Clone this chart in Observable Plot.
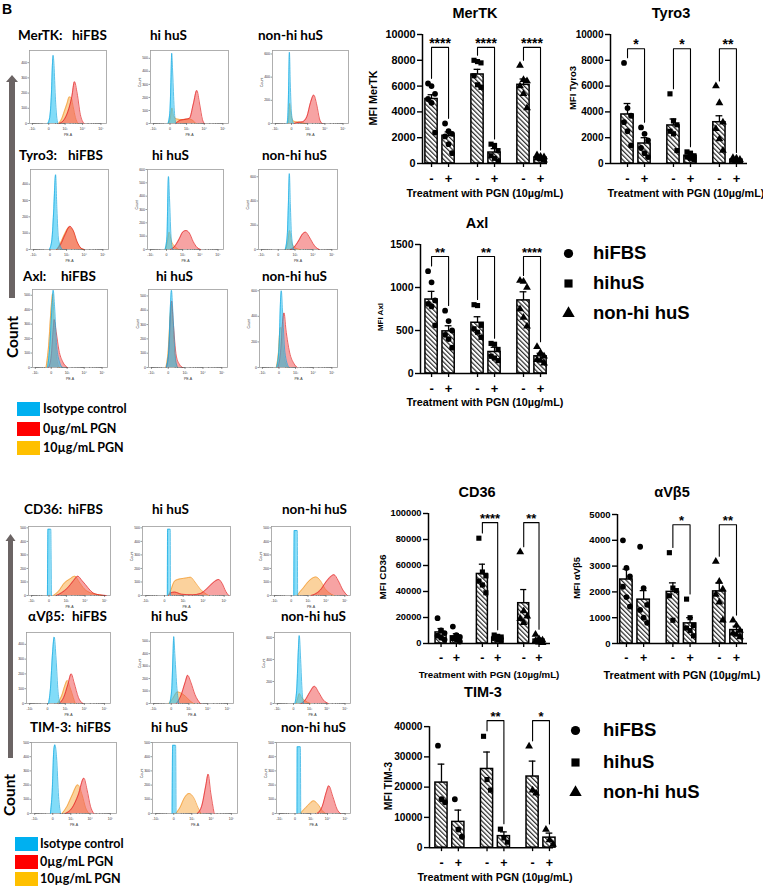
<!DOCTYPE html>
<html><head><meta charset="utf-8">
<script src="https://cdn.jsdelivr.net/npm/d3@7"></script>
<script src="https://cdn.jsdelivr.net/npm/@observablehq/plot@0.6"></script>
<style>
body{margin:0;background:#fff;}
#fig{position:relative;width:763px;height:889px;overflow:hidden;font-family:"Liberation Sans",Arial,sans-serif;font-weight:bold;color:#000;background:#fff;}
.t{position:absolute;white-space:pre;line-height:1;}
.c{transform:translate(-50%,-50%);}
.r{transform:translate(-50%,-50%) rotate(-90deg);}
.l{transform:translateY(-50%);}
.lato{font-family:Lato,"Liberation Sans",sans-serif;}
</style></head><body>
<div id="fig">
<svg width="0" height="0" style="position:absolute">
 <defs>
  <pattern id="hatch" width="3.3" height="3.3" patternUnits="userSpaceOnUse" patternTransform="rotate(-45)">
   <rect width="3.3" height="3.3" fill="#fff"/>
   <line x1="0.6" y1="0" x2="0.6" y2="3.3" stroke="#2a2a2a" stroke-width="1.2"/>
  </pattern>
 </defs>
</svg>
<svg width="30" height="889" style="position:absolute;left:0;top:0">
 <polygon points="12,75 18,82 15,82 15,298 9,298 9,82 6,82" fill="#6b6464"/>
 <polygon points="10.5,534 15.5,541 13,541 13,758 8,758 8,541 5.5,541" fill="#6b6464"/>
</svg>
</div>
<script>
// ---------------- DATA ----------------
const GROUPS = ["hiFBS", "hihuS", "non-hi huS"];
const TREAT = ["-", "+"];
const SYMBOLS = ["circle", "square", "triangle"];
const SERA_TITLES = ["hiFBS", "hi huS", "non-hi huS"];
const HIST_X_TICKS = [-1000, 0, 1000, 10000, 100000];
const HIST_X_LABELS = ["-10³", "0", "10³", "10⁴", "10⁵"];
const LEGEND_LABELS = ["Isotype control", "0µg/mL PGN", "10µg/mL PGN"];
const X_TITLE = "Treatment with PGN (10µg/mL)";

// Flow histograms: [fluorescence (PE-A), count]
const H_MerTK_hiFBS = {ymax: 480, step: 100,
  iso: [[-20,0],[20,40],[60,200],[90,400],[109,448],[140,380],[190,180],[250,50],[315,0]],
  pgn0: [[400,0],[870,25],[1500,80],[2500,175],[3550,275],[5000,200],[7500,60],[12000,0]],
  pgn10: [[350,0],[600,30],[900,80],[1300,130],[1800,175],[2300,170],[3000,110],[4000,40],[5500,0]]};
const H_MerTK_hihuS = {ymax: 560, step: 100,
  iso: [[-40,0],[0,100],[20,350],[35,539],[60,380],[100,120],[150,0]],
  pgn0: [[150,0],[300,20],[800,32],[1500,40],[2500,150],[3900,254],[5600,150],[8000,30],[10000,0]],
  pgn10: [[-30,0],[10,50],[40,119],[80,60],[200,34],[600,30],[1500,34],[2500,20],[3500,0]]};
const H_MerTK_nonhi = {ymax: 630, step: 200,
  iso: [[-110,0],[-80,120],[-60,400],[-45,615],[-25,350],[0,90],[40,0]],
  pgn0: [[60,0],[200,10],[450,15],[900,60],[1500,180],[2350,245],[3500,160],[5000,40],[7000,0]],
  pgn10: [[-80,0],[-55,80],[-40,173],[-20,110],[20,30],[100,15],[300,10],[700,0]]};
const H_Tyro3_hiFBS = {ymax: 490, step: 100,
  iso: [[-10,0],[40,60],[90,250],[149,458],[200,250],[280,60],[520,0]],
  pgn0: [[200,0],[400,30],[800,90],[1600,142],[2500,115],[4000,50],[6500,10],[10000,0]],
  pgn10: [[200,0],[400,40],[800,100],[1400,135],[2300,120],[4000,45],[6500,8],[9500,0]]};
const H_Tyro3_hihuS = {ymax: 600, step: 100,
  iso: [[-30,0],[10,100],[25,350],[43,547],[70,380],[110,120],[170,0]],
  pgn0: [[100,0],[250,20],[600,80],[1000,130],[1600,142],[2500,125],[4200,60],[7000,15],[11000,0]],
  pgn10: [[-20,0],[20,60],[60,130],[120,70],[300,20],[550,0]]};
const H_Tyro3_nonhi = {ymax: 660, step: 200,
  iso: [[200,0],[300,120],[370,400],[430,626],[500,380],[600,120],[840,0]],
  pgn0: [[500,0],[900,20],[1600,70],[2800,130],[4000,143],[6000,110],[10000,50],[15000,15],[22000,0]],
  pgn10: [[220,0],[330,60],[440,157],[600,60],[1000,15],[1900,0]]};
const H_Axl_hiFBS = {ymax: 540, step: 100,
  iso: [[-90,0],[-30,150],[20,450],[43,535],[80,420],[150,150],[280,40],[480,0]],
  pgn0: [[-60,0],[0,80],[40,250],[68,332],[130,250],[250,120],[500,40],[1050,0]],
  pgn10: [[-140,0],[-60,150],[0,420],[30,511],[60,350],[130,100],[260,0]]};
const H_Axl_hihuS = {ymax: 545, step: 100,
  iso: [[-40,0],[10,120],[50,460],[72,539],[110,400],[200,80],[310,0]],
  pgn0: [[-40,0],[10,100],[55,400],[75,465],[120,330],[250,80],[450,20],[700,0]],
  pgn10: [[-50,0],[0,120],[50,400],[72,442],[110,300],[200,60],[320,0]]};
const H_Axl_nonhi = {ymax: 610, step: 200,
  iso: [[-50,0],[0,150],[35,550],[50,600],[80,450],[160,120],[350,0]],
  pgn0: [[-20,0],[40,150],[90,380],[130,427],[200,300],[400,120],[800,30],[1250,0]],
  pgn10: [[-60,0],[-10,120],[20,300],[45,315],[80,200],[150,60],[300,0]]};
const H_CD36_hiFBS = {ymax: 510, step: 100,
  iso: [[-30,0],[-25,300],[-20,490],[35,490],[42,300],[50,0]],
  pgn0: [[200,0],[500,20],[1200,57],[2500,110],[4160,143],[7000,110],[10500,81],[18000,40],[29000,15],[70000,3],[120000,0]],
  pgn10: [[100,0],[300,30],[780,94],[1500,120],[2960,143],[5000,100],[9000,50],[15800,25],[40000,8],[77000,0]]};
const H_CD36_hihuS = {ymax: 510, step: 100,
  iso: [[55,0],[60,490],[130,490],[136,0]],
  pgn0: [[80,0],[150,20],[300,25],[800,10],[3000,5],[7500,15],[15000,50],[30000,95],[55000,118],[80000,90],[120000,30],[165000,0]],
  pgn10: [[80,0],[150,40],[300,106],[700,123],[1500,130],[2400,135],[4000,100],[7000,50],[10400,25],[18000,0]]};
const H_CD36_nonhi = {ymax: 510, step: 100,
  iso: [[55,0],[65,480],[160,480],[175,0]],
  pgn0: [[1500,0],[2500,10],[5000,40],[10000,100],[18000,140],[26500,154],[45000,110],[80000,40],[136000,0]],
  pgn10: [[160,0],[300,30],[500,56],[1000,100],[2790,137],[5000,110],[9000,50],[14900,20],[26000,0]]};
const H_avb5_hiFBS = {ymax: 480, step: 100,
  iso: [[20,0],[60,100],[120,350],[173,449],[250,300],[350,80],[480,0]],
  pgn0: [[420,0],[800,40],[1400,130],[2100,200],[3000,140],[5000,40],[8300,0]],
  pgn10: [[320,0],[600,50],[1000,130],[1280,156],[1800,110],[2700,40],[3400,0]]};
const H_avb5_hihuS = {ymax: 570, step: 100,
  iso: [[-30,0],[10,120],[35,400],[50,537],[80,380],[140,120],[210,0]],
  pgn0: [[120,0],[300,60],[600,170],[850,226],[1300,170],[2200,70],[4160,0]],
  pgn10: [[-50,0],[30,40],[100,80],[150,93],[300,85],[600,60],[1200,20],[1800,0]]};
const H_avb5_nonhi = {ymax: 645, step: 200,
  iso: [[30,0],[80,150],[130,500],[161,617],[220,400],[300,100],[390,0]],
  pgn0: [[250,0],[500,30],[1000,100],[1970,156],[3500,100],[6500,30],[12000,0]],
  pgn10: [[60,0],[110,50],[165,90],[250,60],[500,25],[1100,0]]};
const H_TIM3_hiFBS = {ymax: 500, step: 100,
  iso: [[-45,0],[-10,150],[20,450],[41,484],[80,400],[140,120],[210,0]],
  pgn0: [[480,0],[1200,40],[2500,130],[4880,249],[7000,170],[10500,50],[15300,0]],
  pgn10: [[280,0],[600,50],[1200,130],[2400,202],[4000,130],[6000,40],[8800,0]]};
const H_TIM3_hihuS = {ymax: 500, step: 100,
  iso: [[-30,0],[-20,480],[35,480],[45,0]],
  pgn0: [[2000,0],[3500,60],[5500,200],[7150,277],[9500,150],[14200,0]],
  pgn10: [[40,0],[150,40],[350,110],[700,141],[1300,110],[2200,40],[3100,0]]};
const H_TIM3_nonhi = {ymax: 500, step: 100,
  iso: [[45,0],[50,470],[150,470],[165,0]],
  pgn0: [[2500,0],[5000,50],[8500,150],[11800,195],[20000,120],[35000,30],[55000,0]],
  pgn10: [[150,0],[300,25],[700,60],[1500,89],[3000,60],[5000,20],[7500,0]]};

// Bar charts: order hiFBS-, hiFBS+, hihuS-, hihuS+, non-hi-, non-hi+
const MerTK_mean = [5000, 2150, 6900, 850, 6100, 450];
const MerTK_sem = [330, 300, 400, 300, 450, 80];
const MerTK_pts = [[6200,6000,5400,5000,4700,2400],[3100,2500,2300,2100,1500,800],[8000,7900,7800,6800,6100,5900],[1500,1400,1000,600,400,200],[7600,6500,6400,6000,5400,4300],[650,550,500,400,350,250]];
const MerTK_sig = ["****", "****", "****"];

const Tyro3_mean = [3800, 1550, 2950, 600, 3200, 300];
const Tyro3_sem = [850, 450, 500, 150, 500, 60];
const Tyro3_pts = [[7800,4300,3700,3200,2500,1400],[2800,2300,1800,1200,800,500],[5400,3300,3000,2500,2300,1000],[900,800,600,500,400,300],[6000,4700,3200,2700,1900,1000],[450,400,300,250,200,150]];
const Tyro3_sig = ["*", "*", "**"];

const Axl_mean = [860, 490, 590, 250, 850, 200];
const Axl_sem = [95, 65, 70, 55, 100, 35];
const Axl_pts = [[1190,1060,850,810,780,560],[730,610,500,450,400,300],[800,790,560,520,480,420],[350,340,280,200,180,150],[1080,1070,1000,750,650,550],[310,240,200,160,150,120]];
const Axl_sig = ["**", "**", "****"];

const CD36_mean = [8500, 5500, 53500, 4500, 31000, 3000];
const CD36_sem = [3000, 2000, 7500, 1000, 10500, 1200];
const CD36_pts = [[19500,10000,8000,6000,4500,3000],[13000,6500,5000,4000,3000,1500],[81000,55000,52000,48000,45000,39000],[6500,5500,5000,4000,3000,2500],[70400,25000,21000,19000,16000],[7000,3500,2500,2000,1000,500]];
const CD36_sig = [null, "****", "**"];

const avb5_mean = [2480, 1700, 2000, 780, 2020, 520];
const avb5_sem = [400, 350, 350, 220, 330, 150];
const avb5_pts = [[4000,2930,2600,2200,1800,1430],[3750,2150,1500,1300,1000,800],[3520,2150,2050,1850,900],[1720,1000,700,600,500,300],[3180,2400,2100,1900,1600,900],[900,700,500,400,350,250]];
const avb5_sig = [null, "*", "**"];

const TIM3_mean = [21500, 8500, 26000, 3800, 23500, 3300];
const TIM3_sem = [6100, 3900, 5600, 1400, 5100, 1500];
const TIM3_pts = [[33700,16000,15000],[16000,6000,3600],[36800,22500,19000],[6100,3200,1800],[33500,19000,18000],[6000,2500,1000]];
const TIM3_sig = [null, "**", "*"];

// ---------------- STYLE / LAYOUT ----------------
const CYAN = ["#2ec4f3", "#16a8e0"], RED = ["#f04848", "#e32020"], ORANGE = ["#f7a53c", "#f29a2e"];
const SWATCH = ["#00b0f0", "#ff0000", "#ffc000"];
const PAIR = 2.7, HALF = 0.36;
const fig = document.getElementById("fig");

function txt(s, x, y, size, mode, cls = "") {
  const d = document.createElement("div");
  d.className = "t " + mode + " " + cls;
  d.textContent = s;
  d.style.left = x + "px"; d.style.top = y + "px"; d.style.fontSize = size + "px";
  fig.appendChild(d);
  return d;
}
function place(el, left, top) {
  el.style.position = "absolute"; el.style.left = left + "px"; el.style.top = top + "px";
  el.style.background = "transparent"; el.style.overflow = "visible"; el.style.maxWidth = "none";
  fig.appendChild(el);
}

const MINOR_H = [2,3,4,5,6,7,8,9].flatMap(k => [k * 100, k * 1000, k * 10000, -k * 100]);
function curve(data, col, op) {
  return [
    Plot.areaY(data, {x: d => d[0], y: d => d[1], fill: col[0], fillOpacity: op, curve: "monotone-x"}),
    Plot.lineY(data, {x: d => d[0], y: d => d[1], stroke: col[1], strokeWidth: 0.7, curve: "monotone-x"})
  ];
}
function histo(h, fr, showCount) {
  const [l, r, t, b] = fr;
  const mL = 16, mR = 3, mT = 3, mB = 17;
  const marks = [
    Plot.frame({stroke: "#9c9c9c", strokeWidth: 0.8}),
    ...curve(h.pgn10, ORANGE, 0.5),
    ...curve(h.pgn0, RED, 0.5),
    ...curve(h.iso, CYAN, 0.6),
    Plot.axisY({ticks: d3.range(0, h.ymax + 1, h.step), tickFormat: d => String(d), tickSize: 1.5, tickPadding: 1, fontSize: 3.5, strokeWidth: 0.5, label: null}),
    Plot.axisX({ticks: HIST_X_TICKS, tickFormat: d => HIST_X_LABELS[HIST_X_TICKS.indexOf(d)], tickSize: 2, tickPadding: 1.5, fontSize: 3.5, strokeWidth: 0.5, label: null}),
    Plot.axisX({ticks: MINOR_H, tickFormat: () => "", tickSize: 1, strokeWidth: 0.4, label: null}),
    Plot.text(["PE-A"], {frameAnchor: "bottom", dy: 12, fontSize: 3.5})
  ];
  if (showCount) marks.push(Plot.text(["Count"], {frameAnchor: "left", dx: -11, rotate: -90, fontSize: 3.5}));
  const p = Plot.plot({
    width: mL + (r - l) + mR, height: mT + (b - t) + mB,
    marginLeft: mL, marginRight: mR, marginTop: mT, marginBottom: mB,
    style: {fontFamily: "Liberation Sans, Arial, sans-serif", fontSize: "3.5px", fontWeight: "normal", color: "#333", background: "transparent"},
    x: {type: "symlog", constant: 150, domain: [-1500, 200000]},
    y: {domain: [0, h.ymax]},
    marks
  });
  place(p, l - mL, t - mT);
}

function barChart(c) {
  const xOf = (g, t) => g * PAIR + t;
  const bars = c.mean.map((m, i) => ({g: i >> 1, t: i & 1, mean: m, sem: c.sem[i]}));
  const pts = c.pts.flatMap((arr, i) => arr.map((v, j) => ({g: i >> 1, t: i & 1, v, lane: j % 3})));
  const pad = 0.04 * c.domainMax;
  const legEnd = (g, t) => Math.max(d3.max(c.pts[g * 2 + t]), c.mean[g * 2 + t] + c.sem[g * 2 + t]) + pad;
  const brackets = [];
  c.sig.forEach((s, g) => {
    if (!s) return;
    brackets.push({g, x: xOf(g, 0), y: legEnd(g, 0)}, {g, x: xOf(g, 0), y: c.bracketY},
                  {g, x: xOf(g, 1), y: c.bracketY}, {g, x: xOf(g, 1), y: legEnd(g, 1)});
  });
  const stars = c.sig.map((s, g) => ({g, s})).filter(d => d.s);
  const ticksX = bars.map(d => xOf(d.g, d.t));
  const tickLab = new Map(ticksX.map((x, i) => [x, TREAT[i % 2]]));
  const xmin = -c.padL, xmax = 2 * PAIR + 1 + c.padR;
  const mL = 60, mR = 20, mT = 16, mB = 30;
  const frameTop = c.y0 - (c.y0 - c.yTickTop) * c.domainMax / c.tickMax;
  const marks = [
    Plot.rect(bars, {x1: d => xOf(d.g, d.t) - HALF, x2: d => xOf(d.g, d.t) + HALF, y1: 0, y2: "mean", fill: "white", stroke: "black", strokeWidth: 1.5}),
    Plot.ruleX(bars, {x: d => xOf(d.g, d.t), y1: "mean", y2: d => d.mean + d.sem, strokeWidth: 1.3}),
    Plot.ruleY(bars, {y: d => d.mean + d.sem, x1: d => xOf(d.g, d.t) - 0.2, x2: d => xOf(d.g, d.t) + 0.2, strokeWidth: 1.3}),
    ...[-3.5, 0, 3.5].map((dx, lane) => Plot.dot(pts.filter(d => d.lane === lane), {x: d => xOf(d.g, d.t), y: "v", symbol: d => GROUPS[d.g], fill: "black", stroke: "none", r: 2.9, dx})),
    Plot.line(brackets, {x: "x", y: "y", z: "g", stroke: "black", strokeWidth: 1.1}),
    Plot.text(stars, {x: d => xOf(d.g, 0.5), y: c.bracketY, text: "s", dy: -4, lineAnchor: "middle", fontSize: c.starFont, fontWeight: "bold"}),
    Plot.ruleX([xmin], {y1: 0, y2: c.tickMax, strokeWidth: 1.5}),
    Plot.ruleY([0], {strokeWidth: 1.5}),
    Plot.axisY({ticks: d3.range(0, c.tickMax + 1, c.tickStep), tickFormat: d => String(d), tickSize: 5, tickPadding: 2, strokeWidth: 1.4, fontSize: c.yFont, label: null}),
    Plot.axisX({ticks: ticksX, tickFormat: d => tickLab.get(d), tickSize: 4, tickPadding: 6, strokeWidth: 1.3, fontSize: c.xFont, label: null})
  ];
  const p = Plot.plot({
    width: mL + (c.frameRight - c.frameLeft) + mR,
    height: mT + (c.y0 - frameTop) + mB,
    marginLeft: mL, marginRight: mR, marginTop: mT, marginBottom: mB,
    style: {fontFamily: "Liberation Sans, Arial, sans-serif", fontWeight: "bold", color: "#000", background: "transparent"},
    x: {domain: [xmin, xmax]},
    y: {domain: [0, c.domainMax]},
    symbol: {domain: GROUPS, range: SYMBOLS},
    marks
  });
  p.querySelectorAll('g[aria-label="rect"] rect').forEach(r => r.setAttribute("fill", "url(#hatch)"));
  place(p, c.frameLeft - mL, frameTop - mT);
  txt(c.title, c.titlePos[0], c.titlePos[1], 14.5, "c");
  txt(X_TITLE, c.xTitlePos[0], c.xTitlePos[1], c.xTitleFont, "c");
  txt(c.yLabel, c.yLabelPos[0], c.yLabelPos[1], c.yLabelFont, "r");
}

// ---------------- HISTOGRAM PANELS ----------------
const topRows = [
  {name: "MerTK:", hx: 18, fx: 72, y: 36, sx: [150, 258], tb: [50, 123], cols: [[29,106],[150,228],[272,348]], h: [H_MerTK_hiFBS, H_MerTK_hihuS, H_MerTK_nonhi]},
  {name: "Tyro3:", hx: 19, fx: 68, y: 156, sx: [152, 262], tb: [169, 249], cols: [[30,108],[147,223],[258,337]], h: [H_Tyro3_hiFBS, H_Tyro3_hihuS, H_Tyro3_nonhi]},
  {name: "Axl:", hx: 23, fx: 61, y: 277, sx: [156, 262], tb: [289, 367], cols: [[32,107],[148,227],[259,337]], h: [H_Axl_hiFBS, H_Axl_hihuS, H_Axl_nonhi]},
  {name: "CD36:", hx: 24, fx: 68, y: 510, sx: [152, 282], tb: [526, 595], cols: [[28,110],[142,230],[271,350]], h: [H_CD36_hiFBS, H_CD36_hihuS, H_CD36_nonhi]},
  {name: "αVβ5:", hx: 28, fx: 72, y: 617, sx: [151, 281], tb: [632, 703], cols: [[26,110],[150,233],[274,350]], h: [H_avb5_hiFBS, H_avb5_hihuS, H_avb5_nonhi]},
  {name: "TIM-3:", hx: 30, fx: 76, y: 728, sx: [151, 281], tb: [742, 813], cols: [[31,116],[152,237],[276,350]], h: [H_TIM3_hiFBS, H_TIM3_hihuS, H_TIM3_nonhi]}
];
topRows.forEach(row => {
  txt(row.name, row.hx, row.y, 13.5, "l", "lato");
  txt(SERA_TITLES[0], row.fx, row.y, 13.5, "l", "lato");
  txt(SERA_TITLES[1], row.sx[0], row.y, 13.5, "l", "lato");
  txt(SERA_TITLES[2], row.sx[1], row.y, 13.5, "l", "lato");
  row.cols.forEach((cx, i) => histo(row.h[i], [cx[0], cx[1], row.tb[0], row.tb[1]], i > 0));
});

txt("B", 7, 9, 14, "c");
txt("Count", 13, 337, 15.5, "r", "lato");
txt("Count", 10, 795, 15.5, "r", "lato");

function swatchLegend(x, tops, h, tx, fs) {
  LEGEND_LABELS.forEach((lab, i) => {
    const s = document.createElement("div");
    Object.assign(s.style, {position: "absolute", left: x + "px", top: tops[i] + "px", width: "23px", height: h + "px", background: SWATCH[i]});
    fig.appendChild(s);
    txt(lab, tx, tops[i] + h / 2, fs, "l", "lato");
  });
}
swatchLegend(17, [402, 422, 441], 14, 43, 12.5);
swatchLegend(15, [837, 855, 872], 14, 40, 12.5);

// ---------------- BAR CHARTS ----------------
barChart({mean: MerTK_mean, sem: MerTK_sem, pts: MerTK_pts, sig: MerTK_sig, bracketY: 9000,
  domainMax: 10000, tickMax: 10000, tickStep: 2000, frameLeft: 422, frameRight: 547, yTickTop: 34, y0: 163, padL: 0.53, padR: 0.41,
  yFont: 10.8, xFont: 13, starFont: 14, title: "MerTK", titlePos: [475, 13], xTitlePos: [485, 193], xTitleFont: 10.8,
  yLabel: "MFI MerTK", yLabelPos: [373, 98], yLabelFont: 10.8});
barChart({mean: Tyro3_mean, sem: Tyro3_sem, pts: Tyro3_pts, sig: Tyro3_sig, bracketY: 8900,
  domainMax: 10000, tickMax: 10000, tickStep: 2000, frameLeft: 610, frameRight: 747, yTickTop: 34, y0: 163, padL: 1.0, padR: 0.65,
  yFont: 10, xFont: 13, starFont: 14, title: "Tyro3", titlePos: [671, 13], xTitlePos: [686, 193], xTitleFont: 10.8,
  yLabel: "MFI Tyro3", yLabelPos: [573, 88], yLabelFont: 9.5});
barChart({mean: Axl_mean, sem: Axl_sem, pts: Axl_pts, sig: Axl_sig, bracketY: 1360,
  domainMax: 1500, tickMax: 1500, tickStep: 500, frameLeft: 420, frameRight: 547, yTickTop: 244, y0: 373, padL: 0.65, padR: 0.41,
  yFont: 10.5, xFont: 13, starFont: 13, title: "Axl", titlePos: [477, 223], xTitlePos: [485, 402], xTitleFont: 10.8,
  yLabel: "MFI Axl", yLabelPos: [381, 317], yLabelFont: 8});
barChart({mean: CD36_mean, sem: CD36_sem, pts: CD36_pts, sig: CD36_sig, bracketY: 93000,
  domainMax: 100000, tickMax: 100000, tickStep: 20000, frameLeft: 428, frameRight: 550, yTickTop: 513, y0: 643, padL: 0.82, padR: 0.75,
  yFont: 9.3, xFont: 12.5, starFont: 13, title: "CD36", titlePos: [477, 492], xTitlePos: [489, 675], xTitleFont: 9.7,
  yLabel: "MFI CD36", yLabelPos: [383, 577], yLabelFont: 9.9});
barChart({mean: avb5_mean, sem: avb5_sem, pts: avb5_pts, sig: avb5_sig, bracketY: 4600,
  domainMax: 5000, tickMax: 5000, tickStep: 1000, frameLeft: 617, frameRight: 747, yTickTop: 514, y0: 643, padL: 0.52, padR: 0.64,
  yFont: 9.5, xFont: 12.5, starFont: 13, title: "αVβ5", titlePos: [672, 492], xTitlePos: [682, 675], xTitleFont: 10.8,
  yLabel: "MFI αVβ5", yLabelPos: [577, 578], yLabelFont: 9.4});
barChart({mean: TIM3_mean, sem: TIM3_sem, pts: TIM3_pts, sig: TIM3_sig, bracketY: 42000,
  domainMax: 45000, tickMax: 40000, tickStep: 10000, frameLeft: 429, frameRight: 553, yTickTop: 726, y0: 847, padL: 0.71, padR: 0.24,
  yFont: 10.2, xFont: 12.5, starFont: 13, title: "TIM-3", titlePos: [483, 692], xTitlePos: [495, 877], xTitleFont: 10.7,
  yLabel: "MFI TIM-3", yLabelPos: [388, 786], yLabelFont: 10.5});

// ---------------- SYMBOL LEGENDS ----------------
function symbolLegend(cx, tx, ys) {
  GROUPS.forEach((g, i) => {
    const lg = Plot.plot({
      width: 14, height: 14, margin: 0, axis: null,
      x: {domain: [0, 1]}, y: {domain: [0, 1]},
      symbol: {domain: GROUPS, range: SYMBOLS},
      style: {background: "transparent", overflow: "visible"},
      marks: [Plot.dot([g], {x: () => 0.5, y: () => 0.5, symbol: d => d, fill: "black", stroke: "none", r: 4.6})]
    });
    place(lg, cx - 7, ys[i] - 7);
    txt(g, tx, ys[i], 18.5, "l");
  });
}
symbolLegend(568, 593, [253, 283, 313]);
symbolLegend(575, 603, [730, 762, 792]);
</script>
</body></html>
